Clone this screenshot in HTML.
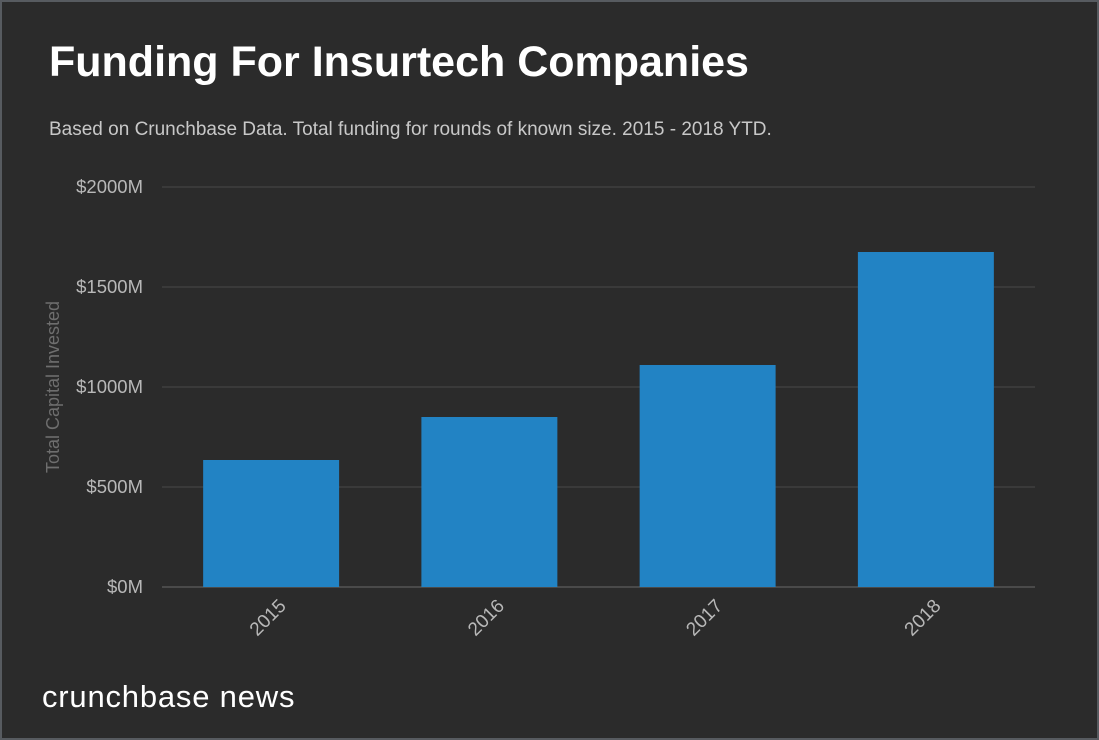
<!DOCTYPE html>
<html><head><meta charset="utf-8"><style>
html,body{margin:0;padding:0;background:#2b2b2b;}
#wrap{position:relative;width:1095px;height:736px;border:2px solid #575b60;background:#2b2b2b;overflow:hidden;font-family:"Liberation Sans",sans-serif;}
h1{position:absolute;left:47px;top:36px;margin:0;color:#fff;font-size:43px;font-weight:bold;}
.sub{position:absolute;left:47px;top:117px;color:#c8c8c8;font-size:19px;white-space:nowrap;}
.logo{position:absolute;left:40px;top:677px;color:#fff;font-size:31px;letter-spacing:0.8px;}
svg{position:absolute;left:0;top:0;}
</style></head><body>
<div id="wrap">
<h1>Funding For Insurtech Companies</h1>
<div class="sub">Based on Crunchbase Data. Total funding for rounds of known size. 2015 - 2018 YTD.</div>
<svg id="chart" width="1095" height="736"></svg>
<div class="logo">crunchbase news</div>
</div>
<script>
const categories = ["2015","2016","2017","2018"];
const values = [635, 850, 1110, 1675];
const yTicks = [0, 500, 1000, 1500, 2000];
const yTickLabels = ["$0M","$500M","$1000M","$1500M","$2000M"];

const NS="http://www.w3.org/2000/svg";
const svg=document.getElementById('chart');
const x0=160,x1=1033,yBase=585,yTop=185,yMax=2000;
const y=v=>yBase-(v/yMax)*(yBase-yTop);
const band=(x1-x0)/categories.length;
const bw=band*0.623;
function mk(t,a){const e=document.createElementNS(NS,t);for(const k in a)e.setAttribute(k,a[k]);svg.appendChild(e);return e;}
yTicks.forEach((v,i)=>{
  const g=mk('line',{x1:x0,x2:x1,y1:y(v),y2:y(v),stroke:i===0?'#6a6a6a':'#4a4a4a','stroke-width':1});
  
  
  const t=mk('text',{x:141,y:y(v)+6,'text-anchor':'end',fill:'#b8b8b8','font-size':18.5,'font-family':'Liberation Sans, sans-serif'});
  t.textContent=yTickLabels[i];
  
  
});
categories.forEach((c,i)=>{
  const cx=x0+band*(i+0.5);
  const r=mk('rect',{x:cx-bw/2,y:y(values[i]),width:bw,height:yBase-y(values[i]),fill:'#2283c4'});
  
  
  const t=mk('text',{x:cx+16,y:605,'text-anchor':'end',fill:'#b8b8b8','font-size':19,'font-family':'Liberation Sans, sans-serif',transform:`rotate(-45 ${cx+16} 605)`});
  t.textContent=c;
  
  
});
const yt=mk('text',{x:0,y:0,'text-anchor':'middle',fill:'#6e6e6e','font-size':18,'font-family':'Liberation Sans, sans-serif',transform:'translate(57 385) rotate(-90)'});
yt.textContent='Total Capital Invested';


</script>
</body></html>
